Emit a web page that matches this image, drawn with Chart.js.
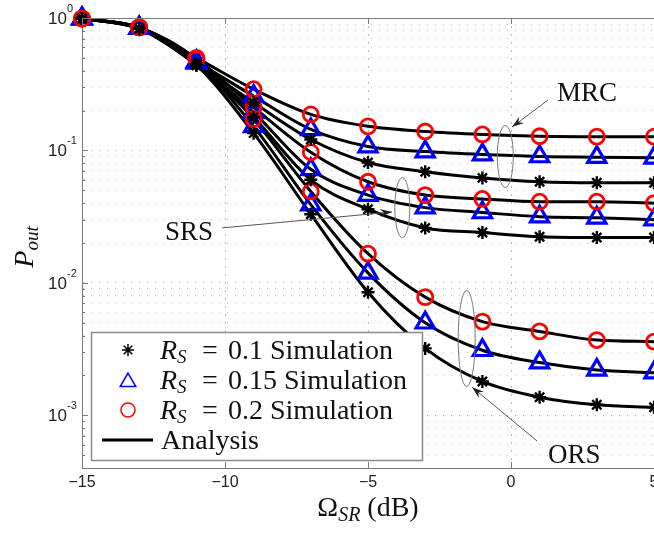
<!DOCTYPE html>
<html>
<head>
<meta charset="utf-8">
<script src="https://cdn.jsdelivr.net/npm/chart.js@4.4.1/dist/chart.umd.min.js"></script>
<style>
    html, body { margin: 0; padding: 0; background: #fff; overflow: hidden; }
    #wrap { position: relative; width: 654px; height: 533px; }
</style>
</head>
<body>
<div id="wrap"><canvas id="pout"></canvas></div>
<script>
// Omega_SR in dB
var snr = [-15, -13, -11, -9, -7, -5, -3, -1, 1, 3, 5];

// MRC
var mrc02  = [0.99, 0.85, 0.50, 0.290, 0.187, 0.152, 0.139, 0.132, 0.128, 0.127, 0.127];
var mrc015 = [0.99, 0.84, 0.47, 0.257, 0.144, 0.107, 0.098, 0.093, 0.090, 0.089, 0.088];
var mrc01  = [0.99, 0.83, 0.45, 0.230, 0.121, 0.081, 0.069, 0.062, 0.058, 0.057, 0.057];
// SRS
var srs02  = [0.99, 0.85, 0.49, 0.212, 0.097, 0.058, 0.046, 0.043, 0.041, 0.041, 0.040];
var srs015 = [0.99, 0.84, 0.46, 0.194, 0.072, 0.046, 0.037, 0.034, 0.0316, 0.031, 0.030];
var srs01  = [0.99, 0.83, 0.44, 0.178, 0.060, 0.036, 0.026, 0.024, 0.0223, 0.022, 0.022];
// ORS
var ors02  = [0.99, 0.85, 0.49, 0.172, 0.049, 0.0166, 0.0078, 0.0051, 0.0043, 0.0037, 0.0036];
var ors015 = [0.99, 0.84, 0.46, 0.152, 0.039, 0.0119, 0.0050, 0.0031, 0.0025, 0.0022, 0.0021];
var ors01  = [0.99, 0.83, 0.44, 0.135, 0.033, 0.0085, 0.0032, 0.0018, 0.00137, 0.0012, 0.00115];

var xTicks = [-15, -10, -5, 0, 5];
var yExp = [-3, -2, -1, 0];
var rsValues = ['0.1', '0.15', '0.2'];

var serif = '"Liberation Serif", "Times New Roman", serif';
var sans = '"Liberation Sans", Arial, sans-serif';

function pts(arr) {
    return snr.map(function (x, i) { return {x: x, y: arr[i]}; });
}

var styles = {
    '0.1':  {pointStyle: 'star', pointRadius: 6.5, borderColor: '#000000', borderWidth: 2.4, order: 0},
    '0.15': {pointStyle: 'triangle', pointRadius: 10.5, borderColor: '#0000ff', borderWidth: 3.2, order: 2},
    '0.2':  {pointStyle: 'circle', pointRadius: 7.5, borderColor: '#ff0000', borderWidth: 2.8, order: 1}
};

var curves = [
    {rs: '0.2', data: mrc02}, {rs: '0.15', data: mrc015}, {rs: '0.1', data: mrc01},
    {rs: '0.2', data: srs02}, {rs: '0.15', data: srs015}, {rs: '0.1', data: srs01},
    {rs: '0.2', data: ors02}, {rs: '0.15', data: ors015}, {rs: '0.1', data: ors01}
];

var datasets = [];
curves.forEach(function (c) {
    datasets.push({
        data: pts(c.data),
        borderColor: '#000',
        borderWidth: 3,
        pointRadius: 0,
        cubicInterpolationMode: 'monotone',
        fill: false,
        clip: false,
        order: 5
    });
});
curves.forEach(function (c) {
    var s = styles[c.rs];
    datasets.push({
        data: pts(c.data),
        showLine: false,
        pointStyle: s.pointStyle,
        pointRadius: s.pointRadius,
        pointBorderColor: s.borderColor,
        pointBackgroundColor: 'rgba(0,0,0,0)',
        pointBorderWidth: s.borderWidth,
        clip: false,
        order: s.order
    });
});

// annotation anchors (data coords)
var ellipses = [
    {x: -0.2, y: 0.09, rx: 8, ry: 31},
    {x: -3.8, y: 0.037, rx: 7.5, ry: 30},
    {x: -1.55, y: 0.0038, rx: 8.5, ry: 48}
];
var arrows = [
    {x1: 1.29, y1: 0.24, x2: 0.035, y2: 0.15},
    {x1: -10.1, y1: 0.026, x2: -4.16, y2: 0.0343},
    {x1: 0.91, y1: 0.00064, x2: -1.36, y2: 0.00163}
];
var notes = [
    {text: 'MRC', x: 1.61, y: 0.236},
    {text: 'SRS', x: -12.1, y: 0.021},
    {text: 'ORS', x: 1.29, y: 0.00044}
];

var decor = {
    id: 'decor',
    afterDatasetsDraw: function (chart) {
        var ctx = chart.ctx;
        var xs = chart.scales.x, ys = chart.scales.y;
        var a = chart.chartArea;
        ctx.save();

        // box + inward ticks
        ctx.strokeStyle = '#7a7a7a';
        ctx.lineWidth = 1;
        ctx.beginPath();
        ctx.moveTo(a.left, a.top + 0.5);
        ctx.lineTo(a.right, a.top + 0.5);
        ctx.stroke();
        ctx.beginPath();
        ys.ticks.forEach(function (t) {
            var py = Math.round(ys.getPixelForValue(t.value)) + 0.5;
            var major = Math.abs(Math.log10(t.value) - Math.round(Math.log10(t.value))) < 1e-6;
            ctx.moveTo(a.left, py);
            ctx.lineTo(a.left + (major ? 6 : 3), py);
        });
        xTicks.forEach(function (v) {
            var px = Math.round(xs.getPixelForValue(v)) + 0.5;
            ctx.moveTo(px, a.bottom);
            ctx.lineTo(px, a.bottom - 6);
            ctx.moveTo(px, a.top);
            ctx.lineTo(px, a.top + 6);
        });
        ctx.stroke();

        // tick labels
        ctx.fillStyle = '#222';
        ctx.font = '16px ' + sans;
        ctx.textAlign = 'center';
        ctx.textBaseline = 'middle';
        xTicks.forEach(function (v) {
            var lbl = v < 0 ? '\u2212' + Math.abs(v) : String(v);
            ctx.fillText(lbl, xs.getPixelForValue(v), 483);
        });
        yExp.forEach(function (e) {
            var py = ys.getPixelForValue(Math.pow(10, e));
            ctx.font = '17px ' + sans;
            ctx.textAlign = 'right';
            ctx.textBaseline = 'middle';
            ctx.fillText('10', 67, py + 1);
            ctx.font = '11px ' + sans;
            ctx.textAlign = 'left';
            ctx.textBaseline = 'alphabetic';
            ctx.fillText(String(e), 67, py - 6);
        });

        // axis titles
        ctx.fillStyle = '#111';
        ctx.textAlign = 'left';
        ctx.textBaseline = 'alphabetic';
        var cx = (a.left + a.right) / 2;
        ctx.font = '28px ' + serif;
        var wO = ctx.measureText('\u03a9').width;
        var wDb = ctx.measureText(' (dB)').width;
        ctx.font = 'italic 20px ' + serif;
        var wSr = ctx.measureText('SR').width;
        var x0 = cx - (wO + wSr + wDb) / 2;
        ctx.font = '28px ' + serif;
        ctx.fillText('\u03a9', x0, 516);
        ctx.font = 'italic 20px ' + serif;
        ctx.fillText('SR', x0 + wO, 521);
        ctx.font = '28px ' + serif;
        ctx.fillText(' (dB)', x0 + wO + wSr, 516);

        ctx.save();
        ctx.translate(33, 247);
        ctx.rotate(-Math.PI / 2);
        ctx.font = 'italic 28px ' + serif;
        var wP = ctx.measureText('P').width;
        ctx.font = 'italic 19px ' + serif;
        var wOut = ctx.measureText('out').width;
        var s0 = -(wP + wOut) / 2;
        ctx.font = 'italic 28px ' + serif;
        ctx.fillText('P', s0, 0);
        ctx.font = 'italic 19px ' + serif;
        ctx.fillText('out', s0 + wP, 5);
        ctx.restore();

        // annotations
        ctx.strokeStyle = '#777';
        ctx.lineWidth = 1;
        ellipses.forEach(function (e) {
            ctx.beginPath();
            ctx.ellipse(xs.getPixelForValue(e.x), ys.getPixelForValue(e.y), e.rx, e.ry, 0, 0, Math.PI * 2);
            ctx.stroke();
        });
        arrows.forEach(function (r) {
            var x1 = xs.getPixelForValue(r.x1), y1 = ys.getPixelForValue(r.y1);
            var x2 = xs.getPixelForValue(r.x2), y2 = ys.getPixelForValue(r.y2);
            var ang = Math.atan2(y2 - y1, x2 - x1);
            ctx.strokeStyle = '#555';
            ctx.beginPath();
            ctx.moveTo(x1, y1);
            ctx.lineTo(x2, y2);
            ctx.stroke();
            ctx.fillStyle = '#222';
            ctx.beginPath();
            ctx.moveTo(x2, y2);
            ctx.lineTo(x2 - 12 * Math.cos(ang) + 4 * Math.sin(ang), y2 - 12 * Math.sin(ang) - 4 * Math.cos(ang));
            ctx.lineTo(x2 - 8 * Math.cos(ang), y2 - 8 * Math.sin(ang));
            ctx.lineTo(x2 - 12 * Math.cos(ang) - 4 * Math.sin(ang), y2 - 12 * Math.sin(ang) + 4 * Math.cos(ang));
            ctx.closePath();
            ctx.fill();
        });
        ctx.fillStyle = '#111';
        ctx.font = '27px ' + serif;
        notes.forEach(function (n) {
            ctx.fillText(n.text, xs.getPixelForValue(n.x), ys.getPixelForValue(n.y));
        });

        // legend
        ctx.fillStyle = '#fff';
        ctx.fillRect(91, 332, 331, 128);
        ctx.strokeStyle = '#8a8a8a';
        ctx.lineWidth = 1.5;
        ctx.strokeRect(91.5, 332.5, 331, 128);
        var rowY = [350, 380, 410, 440];
        rsValues.forEach(function (rs, i) {
            var s = styles[rs];
            ctx.strokeStyle = s.borderColor;
            ctx.fillStyle = 'rgba(0,0,0,0)';
            Chart.helpers.drawPoint(ctx, {
                pointStyle: s.pointStyle,
                radius: s.pointStyle === 'triangle' ? 9 : (s.pointStyle === 'star' ? 6 : 7),
                borderWidth: s.borderWidth,
                rotation: 0
            }, 128, rowY[i] + (s.pointStyle === 'triangle' ? 2 : 0));
            var base = rowY[i] + 9;
            ctx.fillStyle = '#111';
            ctx.font = 'italic 28px ' + serif;
            ctx.fillText('R', 160, base);
            ctx.font = 'italic 19px ' + serif;
            ctx.fillText('S', 177, base + 4);
            ctx.font = '28px ' + serif;
            ctx.fillText('=', 202, base);
            ctx.fillText(rs + ' Simulation', 228, base);
        });
        ctx.strokeStyle = '#000';
        ctx.lineWidth = 3;
        ctx.beginPath();
        ctx.moveTo(102, rowY[3]);
        ctx.lineTo(153, rowY[3]);
        ctx.stroke();
        ctx.fillStyle = '#111';
        ctx.font = '28px ' + serif;
        ctx.fillText('Analysis', 161, rowY[3] + 9);

        ctx.restore();
    }
};

var chart = new Chart(document.getElementById('pout'), {
    type: 'line',
    data: {datasets: datasets},
    options: {
        responsive: true,
        maintainAspectRatio: false,
        animation: false,
        events: [],
        layout: {autoPadding: false, padding: {left: 82, top: 18, right: 0, bottom: 65}},
        plugins: {legend: {display: false}, tooltip: {enabled: false}},
        scales: {
            x: {
                type: 'linear',
                min: -15,
                max: 5,
                ticks: {display: false, stepSize: 5},
                grid: {color: '#b8b8b8', lineWidth: 1, drawTicks: false},
                border: {display: true, color: '#7a7a7a', width: 1, dash: [2, 6]}
            },
            y: {
                type: 'logarithmic',
                min: 4e-4,
                max: 1,
                afterBuildTicks: function (scale) {
                    var t = [];
                    for (var e = -4; e <= 0; e++) {
                        for (var m = 1; m <= 9; m++) {
                            var v = m * Math.pow(10, e);
                            if (v >= 4e-4 * 0.999 && v <= 1.0001) t.push({value: v});
                        }
                    }
                    scale.ticks = t;
                },
                ticks: {display: false},
                grid: {
                    color: function (c) {
                        var lv = Math.log10(c.tick.value);
                        return Math.abs(lv - Math.round(lv)) < 1e-6 ? '#a8a8a8' : '#c4c4c4';
                    },
                    lineWidth: 1,
                    drawTicks: false
                },
                border: {display: true, color: '#7a7a7a', width: 1, dash: [1, 7]}
            }
        }
    },
    plugins: [decor]
});
</script>
</body>
</html>
